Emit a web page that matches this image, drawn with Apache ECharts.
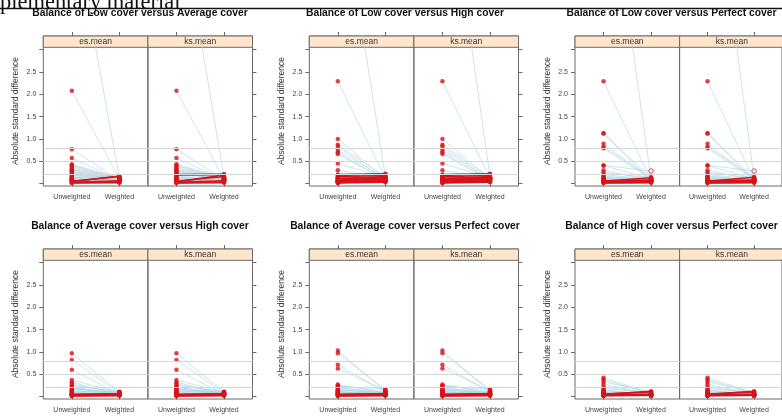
<!DOCTYPE html>
<html><head><meta charset="utf-8">
<script src="https://cdn.jsdelivr.net/npm/echarts@6/dist/echarts.min.js"></script>
<style>html,body{margin:0;padding:0;background:#fff;}#c{width:782px;height:418px;}</style>
</head><body><div id="c"></div>
<script>
// ---------- text ----------
const pageHeader = "plementary material";
const titles = [
  "Balance of Low cover versus Average cover",
  "Balance of Low cover versus High cover",
  "Balance of Low cover versus Perfect cover",
  "Balance of Average cover versus High cover",
  "Balance of Average cover versus Perfect cover",
  "Balance of High cover versus Perfect cover"
];
const stripLabels = ["es.mean", "ks.mean"];
const xTickLabels = ["Unweighted", "Weighted"];
const yTicks = [0, 0.5, 1, 1.5, 2, 2.5, 3];
const yTickLabels = [0.5, 1, 1.5, 2, 2.5];
const refLines = [0.2, 0.5, 0.8];
const yName = "Absolute standard difference";

// ---------- data (absolute standardized differences) ----------
const lowAvgEsUnweighted = [6.0, 2.08, 0.77, 0.57, 0.43, 0.41, 0.38, 0.35, 0.32, 0.30, 0.28, 0.26, 0.24, 0.22, 0.20, 0.19, 0.17, 0.15, 0.14, 0.12, 0.11, 0.10, 0.09, 0.08, 0.07, 0.06, 0.05, 0.04, 0.03, 0.02, 0.01];
const lowAvgEsWeighted   = [0.12, 0.10, 0.08, 0.09, 0.13, 0.11, 0.12, 0.10, 0.14, 0.09, 0.12, 0.08, 0.11, 0.10, 0.07, 0.13, 0.09, 0.06, 0.10, 0.08, 0.05, 0.07, 0.06, 0.04, 0.05, 0.03, 0.16, 0.17, 0.06, 0.04, 0.02];
const lowAvgKsUnweighted = [6.45, 2.08, 0.77, 0.57, 0.43, 0.41, 0.38, 0.35, 0.32, 0.30, 0.28, 0.26, 0.24, 0.22, 0.20, 0.19, 0.17, 0.15, 0.14, 0.12, 0.11, 0.10, 0.09, 0.08, 0.07, 0.06, 0.05, 0.04, 0.03, 0.02, 0.01];
const lowAvgKsWeighted   = [0.15, 0.10, 0.08, 0.09, 0.13, 0.11, 0.12, 0.10, 0.14, 0.09, 0.12, 0.08, 0.11, 0.10, 0.21, 0.20, 0.09, 0.06, 0.10, 0.08, 0.05, 0.07, 0.06, 0.04, 0.05, 0.03, 0.16, 0.19, 0.06, 0.04, 0.02];

const lowHighEsUnweighted = [6.9, 2.29, 1.00, 0.87, 0.83, 0.75, 0.70, 0.66, 0.45, 0.30, 0.20, 0.18, 0.16, 0.15, 0.13, 0.12, 0.11, 0.10, 0.09, 0.08, 0.07, 0.06, 0.05, 0.05, 0.04, 0.03, 0.03, 0.02, 0.01];
const lowHighEsWeighted   = [0.15, 0.12, 0.10, 0.14, 0.08, 0.11, 0.06, 0.09, 0.13, 0.10, 0.22, 0.21, 0.12, 0.18, 0.08, 0.14, 0.10, 0.16, 0.05, 0.12, 0.09, 0.13, 0.07, 0.11, 0.06, 0.10, 0.04, 0.08, 0.03];
const lowHighKsUnweighted = [7.7, 2.29, 1.00, 0.87, 0.83, 0.75, 0.70, 0.66, 0.45, 0.30, 0.20, 0.18, 0.16, 0.15, 0.13, 0.12, 0.11, 0.10, 0.09, 0.08, 0.07, 0.06, 0.05, 0.05, 0.04, 0.03, 0.03, 0.02, 0.01];
const lowHighKsWeighted   = [0.15, 0.12, 0.10, 0.14, 0.08, 0.11, 0.06, 0.09, 0.13, 0.10, 0.22, 0.21, 0.12, 0.18, 0.08, 0.14, 0.10, 0.16, 0.05, 0.12, 0.09, 0.13, 0.07, 0.11, 0.06, 0.10, 0.04, 0.08, 0.03];

const lowPerfectEsUnweighted = [7.7, 2.29, 1.13, 1.12, 0.89, 0.82, 0.79, 0.41, 0.40, 0.30, 0.25, 0.20, 0.17, 0.15, 0.13, 0.12, 0.10, 0.09, 0.08, 0.07, 0.06, 0.05, 0.05, 0.04, 0.03, 0.03, 0.02, 0.01];
const lowPerfectEsWeighted   = [0.10, 0.08, 0.12, 0.06, 0.10, 0.14, 0.09, 0.28, 0.11, 0.07, 0.13, 0.10, 0.08, 0.05, 0.09, 0.06, 0.04, 0.07, 0.05, 0.03, 0.08, 0.06, 0.13, 0.04, 0.05, 0.07, 0.03, 0.02];
const lowPerfectKsUnweighted = [8.0, 2.29, 1.13, 1.12, 0.89, 0.82, 0.79, 0.41, 0.40, 0.30, 0.25, 0.20, 0.17, 0.15, 0.13, 0.12, 0.10, 0.09, 0.08, 0.07, 0.06, 0.05, 0.05, 0.04, 0.03, 0.03, 0.02, 0.01];
const lowPerfectKsWeighted   = [0.10, 0.08, 0.12, 0.06, 0.10, 0.14, 0.09, 0.28, 0.11, 0.07, 0.13, 0.10, 0.08, 0.05, 0.09, 0.06, 0.04, 0.07, 0.05, 0.03, 0.08, 0.06, 0.14, 0.04, 0.05, 0.07, 0.03, 0.02];
const lowPerfectOpenWeightedIdx = [7];   // non-filled marker

const avgHighEsUnweighted = [0.97, 0.82, 0.60, 0.37, 0.32, 0.28, 0.25, 0.22, 0.20, 0.18, 0.16, 0.15, 0.13, 0.12, 0.10, 0.09, 0.08, 0.07, 0.06, 0.05, 0.04, 0.04, 0.03, 0.02, 0.01];
const avgHighEsWeighted   = [0.10, 0.08, 0.06, 0.09, 0.05, 0.07, 0.11, 0.04, 0.08, 0.06, 0.10, 0.05, 0.07, 0.09, 0.04, 0.06, 0.05, 0.03, 0.04, 0.06, 0.06, 0.05, 0.04, 0.03, 0.02];
const avgHighKsUnweighted = avgHighEsUnweighted;
const avgHighKsWeighted   = avgHighEsWeighted;

const avgPerfectEsUnweighted = [1.03, 0.97, 0.71, 0.63, 0.27, 0.25, 0.23, 0.21, 0.19, 0.17, 0.15, 0.14, 0.12, 0.11, 0.10, 0.09, 0.08, 0.07, 0.06, 0.05, 0.04, 0.04, 0.03, 0.02, 0.01];
const avgPerfectEsWeighted   = [0.12, 0.15, 0.10, 0.13, 0.08, 0.11, 0.17, 0.06, 0.09, 0.05, 0.07, 0.10, 0.04, 0.06, 0.05, 0.08, 0.03, 0.05, 0.04, 0.06, 0.05, 0.07, 0.04, 0.03, 0.02];
const avgPerfectKsUnweighted = avgPerfectEsUnweighted;
const avgPerfectKsWeighted   = avgPerfectEsWeighted;

const highPerfectEsUnweighted = [0.42, 0.38, 0.33, 0.28, 0.22, 0.18, 0.15, 0.13, 0.11, 0.10, 0.09, 0.08, 0.07, 0.06, 0.05, 0.05, 0.04, 0.04, 0.03, 0.03, 0.02, 0.02, 0.01];
const highPerfectEsWeighted   = [0.08, 0.06, 0.10, 0.05, 0.07, 0.09, 0.04, 0.06, 0.05, 0.03, 0.07, 0.04, 0.05, 0.03, 0.12, 0.10, 0.05, 0.03, 0.04, 0.02, 0.03, 0.02, 0.01];
const highPerfectKsUnweighted = highPerfectEsUnweighted;
const highPerfectKsWeighted   = highPerfectEsWeighted;

const figures = [
  { es: [lowAvgEsUnweighted, lowAvgEsWeighted], ks: [lowAvgKsUnweighted, lowAvgKsWeighted], open: [] },
  { es: [lowHighEsUnweighted, lowHighEsWeighted], ks: [lowHighKsUnweighted, lowHighKsWeighted], open: [] },
  { es: [lowPerfectEsUnweighted, lowPerfectEsWeighted], ks: [lowPerfectKsUnweighted, lowPerfectKsWeighted], open: lowPerfectOpenWeightedIdx },
  { es: [avgHighEsUnweighted, avgHighEsWeighted], ks: [avgHighKsUnweighted, avgHighKsWeighted], open: [] },
  { es: [avgPerfectEsUnweighted, avgPerfectEsWeighted], ks: [avgPerfectKsUnweighted, avgPerfectKsWeighted], open: [] },
  { es: [highPerfectEsUnweighted, highPerfectEsWeighted], ks: [highPerfectKsUnweighted, highPerfectKsWeighted], open: [] }
];

// ---------- layout ----------
const FONT = "'Liberation Sans', Arial, sans-serif";
const colLeft = [43.3, 309.3, 575];
const rowTop = [36, 249];
const titleX = [140, 405, 671.5];
const titleY = [13.3, 225.7];
const panelW = 104.6, panelH = 150, stripH = 11.3;
const yMin = -0.055, yMax = 3.307;
const RED = '#d7141a', BLUE = 'rgba(168,212,228,0.75)', FRAME = '#6a6a6a';

const grids = [], xAxes = [], yAxes = [], series = [], graphics = [];

graphics.push({ type: 'line', shape: { x1: 0, y1: 8.5, x2: 782, y2: 8.5 }, style: { stroke: '#111', lineWidth: 1.5 }, z: 0 });
graphics.push({ type: 'text', x: 0, y: 3, z: 0, style: { text: pageHeader, fill: '#111', font: "22.5px 'Liberation Serif', 'Times New Roman', serif", align: 'left', verticalAlign: 'middle' } });

figures.forEach((fig, f) => {
  const r = Math.floor(f / 3), c = f % 3;
  graphics.push({ type: 'text', x: titleX[c], y: titleY[r], z: 1,
    style: { text: titles[f], fill: '#111', font: "bold 10.3px " + FONT, align: 'center', verticalAlign: 'middle' } });
  [fig.es, fig.ks].forEach((pair, s) => {
    const g = f * 2 + s;
    const left = colLeft[c] + s * panelW;
    const top = rowTop[r];
    grids.push({ left: left, top: top, width: panelW, height: panelH, show: true,
      borderColor: FRAME, borderWidth: 1, backgroundColor: 'transparent' });
    // strip
    graphics.push({ type: 'rect', shape: { x: left, y: top, width: panelW, height: stripH }, z: 0,
      style: { fill: '#ffe5cc', stroke: FRAME, lineWidth: 1 } });
    graphics.push({ type: 'text', x: left + panelW / 2, y: top + stripH / 2 + 0.5, z: 0,
      style: { text: stripLabels[s], fill: '#333', font: "8.5px " + FONT, align: 'center', verticalAlign: 'middle' } });

    xAxes.push({ gridIndex: g, type: 'value', min: 0.4, max: 2.6, position: 'bottom',
      axisLine: { show: false }, splitLine: { show: false },
      axisTick: { show: true, customValues: [1, 2], length: 3, lineStyle: { color: FRAME } },
      axisLabel: { customValues: [1, 2], formatter: v => xTickLabels[Math.round(v) - 1],
        fontSize: 7, color: '#444', margin: 8, fontFamily: FONT } });
    xAxes.push({ gridIndex: g, type: 'value', min: 0.4, max: 2.6, position: 'top',
      axisLine: { show: false }, splitLine: { show: false },
      axisTick: { show: true, customValues: [1, 2], length: 4, lineStyle: { color: FRAME } },
      axisLabel: { show: false } });

    const yAx = { gridIndex: g, type: 'value', min: yMin, max: yMax,
      position: s === 0 ? 'left' : 'right',
      axisLine: { show: false }, splitLine: { show: false },
      axisTick: { show: true, customValues: yTicks, length: 4, lineStyle: { color: FRAME } } };
    if (s === 0) {
      yAx.axisLabel = { customValues: yTickLabels, formatter: v => v.toFixed(1),
        fontSize: 7, color: '#444', margin: 7, fontFamily: FONT };
      yAx.name = yName; yAx.nameLocation = 'middle'; yAx.nameGap = 23;
      yAx.nameTextStyle = { fontSize: 8.5, color: '#333', fontFamily: FONT };
    } else {
      yAx.axisLabel = { show: false };
    }
    yAxes.push(yAx);

    const xi = g * 2;
    // reference lines
    series.push({ type: 'line', xAxisIndex: xi, yAxisIndex: g, data: [], silent: true, z: 1,
      markLine: { silent: true, symbol: ['none', 'none'], label: { show: false },
        lineStyle: { color: '#d6d6d6', width: 1, type: 'solid' },
        data: refLines.map(v => ({ yAxis: v })) } });

    const unw = pair[0], wtd = pair[1];
    unw.forEach((u, i) => {
      const w = wtd[i];
      const up = w > u;
      series.push({ type: 'line', xAxisIndex: xi, yAxisIndex: g, silent: true,
        data: [[1, u], [2, w]], symbol: 'none', z: up ? 3 : 2, clip: true,
        lineStyle: { color: up ? RED : BLUE, width: up ? 1.5 : 0.8 } });
    });
    const pts = [];
    unw.forEach(u => { if (u <= yMax) pts.push({ value: [1, u] }); });
    wtd.forEach((w, i) => {
      if (w > yMax) return;
      if (fig.open.indexOf(i) >= 0) pts.push({ value: [2, w], itemStyle: { color: '#fff', borderColor: RED, borderWidth: 1 } });
      else pts.push({ value: [2, w] });
    });
    series.push({ type: 'scatter', xAxisIndex: xi, yAxisIndex: g, silent: true, z: 4,
      symbolSize: 4.5, itemStyle: { color: RED }, data: pts });
  });
});

const chart = echarts.init(document.getElementById('c'), null, { renderer: 'canvas' });
chart.setOption({
  animation: false,
  backgroundColor: '#fff',
  textStyle: { fontFamily: FONT },
  grid: grids, xAxis: xAxes, yAxis: yAxes, series: series, graphic: graphics
});
</script></body></html>
